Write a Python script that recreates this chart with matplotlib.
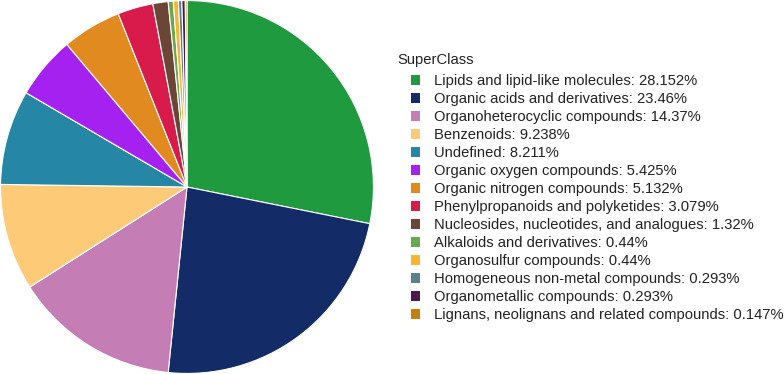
import matplotlib.pyplot as plt
from matplotlib.patches import Patch

plt.rcParams['font.family'] = ['Liberation Sans', 'DejaVu Sans']

categories = [
    "Lipids and lipid-like molecules", "Organic acids and derivatives",
    "Organoheterocyclic compounds", "Benzenoids", "Undefined",
    "Organic oxygen compounds", "Organic nitrogen compounds",
    "Phenylpropanoids and polyketides", "Nucleosides, nucleotides, and analogues",
    "Alkaloids and derivatives", "Organosulfur compounds",
    "Homogeneous non-metal compounds", "Organometallic compounds",
    "Lignans, neolignans and related compounds",
]
percent = [28.152, 23.46, 14.37, 9.238, 8.211, 5.425, 5.132, 3.079,
           1.32, 0.44, 0.44, 0.293, 0.293, 0.147]
pct_labels = ["28.152", "23.46", "14.37", "9.238", "8.211", "5.425", "5.132",
              "3.079", "1.32", "0.44", "0.44", "0.293", "0.293", "0.147"]
colors = ["#1f9a3f", "#132c68", "#c57db5", "#fdcb78", "#2586a6", "#a521f0",
          "#e08a1f", "#d91b4b", "#6b4637", "#6aa84f", "#fbb52d", "#5c7f8e",
          "#4a1a4a", "#c57f0a"]

W, H = 784, 374
fig = plt.figure(figsize=(W / 100, H / 100), dpi=100)
ax = fig.add_axes([0.0, 0.0, 374 / W, 1.0])
ax.pie(percent, colors=colors, startangle=90, counterclock=False,
       wedgeprops=dict(edgecolor="white", linewidth=0.8))
ax.set_aspect("equal")
ax.set_xlim(-1.003, 1.003)
ax.set_ylim(-1.003, 1.003)

fs = 10.65
fig.text(397 / W, 1 - 64 / H, "SuperClass", fontsize=fs, color="#222222",
         va="baseline", ha="left")

handles = [Patch(facecolor=c, edgecolor="none") for c in colors]
labels = [f"{n}: {p}%" for n, p in zip(categories, pct_labels)]
leg = fig.legend(handles, labels, loc="upper left",
                 bbox_to_anchor=(411 / W, 1 - 74 / H), frameon=False,
                 fontsize=fs, handlelength=0.62, handleheight=0.62,
                 handletextpad=0.95, labelspacing=0.272,
                 borderpad=0, borderaxespad=0)
for t in leg.get_texts():
    t.set_color("#222222")

fig.savefig("out.png", dpi=100)
